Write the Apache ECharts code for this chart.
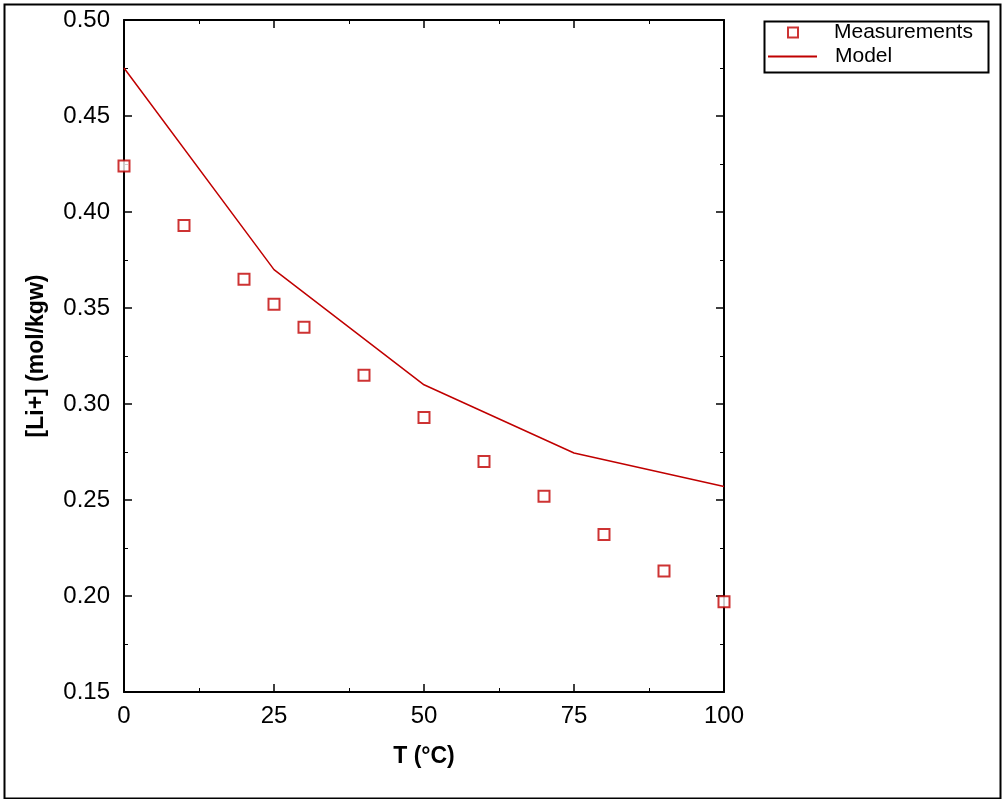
<!DOCTYPE html>
<html>
<head>
<meta charset="utf-8">
<script src="https://cdn.jsdelivr.net/npm/echarts@6/dist/echarts.min.js"></script>
<style>
  html, body { margin: 0; padding: 0; background: #fff; }
  #chart { width: 1003px; height: 799px; }
</style>
</head>
<body>
<div id="chart"></div>
<script>
// measured points
var measT = [0, 10, 20, 25, 30, 40, 50, 60, 70, 80, 90, 100];
var measLi = [0.424, 0.393, 0.365, 0.352, 0.340, 0.315, 0.293, 0.270, 0.252, 0.232, 0.213, 0.197];
// model curve
var modelT = [0, 25, 50, 75, 100];
var modelLi = [0.475, 0.370, 0.310, 0.2745, 0.257];

var RED = '#c00000';
var FONT = 'Liberation Sans, Arial, sans-serif';

function pairs(xs, ys) {
  return xs.map(function (x, i) { return [x, ys[i]]; });
}

var chart = echarts.init(document.getElementById('chart'));

var tickBase = {
  axisLine: { show: true, onZero: false, lineStyle: { color: '#000', width: 2 } },
  axisTick: { show: true, inside: true, length: 8, lineStyle: { color: '#000', width: 1.5 } },
  minorTick: { show: true, splitNumber: 2, length: 4, lineStyle: { color: '#000', width: 1 } },
  splitLine: { show: false }
};

var option = {
  backgroundColor: '#ffffff',
  animation: false,
  grid: { left: 124, right: 279, top: 20, bottom: 107 },
  xAxis: [
    Object.assign({
      type: 'value', min: 0, max: 100, interval: 25, position: 'bottom',
      name: 'T (°C)', nameLocation: 'middle', nameGap: 53,
      nameTextStyle: { fontFamily: FONT, fontSize: 23, fontWeight: 'bold', color: '#000' },
      axisLabel: { fontFamily: FONT, fontSize: 24, color: '#000', margin: 12 }
    }, tickBase),
    Object.assign({
      type: 'value', min: 0, max: 100, interval: 25, position: 'top',
      axisLabel: { show: false }
    }, tickBase)
  ],
  yAxis: [
    Object.assign({
      type: 'value', min: 0.15, max: 0.50, interval: 0.05, position: 'left',
      name: '[Li+] (mol/kgw)', nameLocation: 'middle', nameGap: 76,
      nameTextStyle: { fontFamily: FONT, fontSize: 23, fontWeight: 'bold', color: '#000' },
      axisLabel: {
        fontFamily: FONT, fontSize: 24, color: '#000', margin: 14,
        formatter: function (v) { return v.toFixed(2); }
      }
    }, tickBase),
    Object.assign({
      type: 'value', min: 0.15, max: 0.50, interval: 0.05, position: 'right',
      axisLabel: { show: false }
    }, tickBase)
  ],
  legend: [
    {
      data: [{ name: 'Measurements', icon: 'emptyRect' }],
      left: 782, top: 17,
      itemWidth: 10, itemHeight: 10,
      selectedMode: false,
      textStyle: { fontFamily: FONT, fontSize: 21, color: '#000', padding: [0, 0, 0, 31] }
    },
    {
      data: [{ name: 'Model', icon: 'rect' }],
      left: 763, top: 41,
      itemWidth: 49, itemHeight: 2,
      selectedMode: false,
      textStyle: { fontFamily: FONT, fontSize: 21, color: '#000', padding: [0, 0, 0, 13] }
    }
  ],
  graphic: [
    {
      type: 'rect', left: 2, top: 2, silent: true,
      shape: { width: 996, height: 794 },
      style: { fill: 'none', stroke: '#000', lineWidth: 2 }
    },
    {
      type: 'rect', left: 762, top: 19, silent: true,
      shape: { width: 224, height: 51 },
      style: { fill: 'none', stroke: '#000', lineWidth: 2 }
    }
  ],
  series: [
    {
      name: 'Model',
      type: 'line',
      data: pairs(modelT, modelLi),
      symbol: 'none',
      lineStyle: { color: RED, width: 1.5 },
      itemStyle: { color: RED },
      z: 2
    },
    {
      name: 'Measurements',
      type: 'scatter',
      data: pairs(measT, measLi),
      symbol: 'emptyRect',
      symbolSize: 11,
      itemStyle: { color: RED, borderColor: RED, borderWidth: 1.2 },
      z: 3
    }
  ]
};

chart.setOption(option);
</script>
</body>
</html>
